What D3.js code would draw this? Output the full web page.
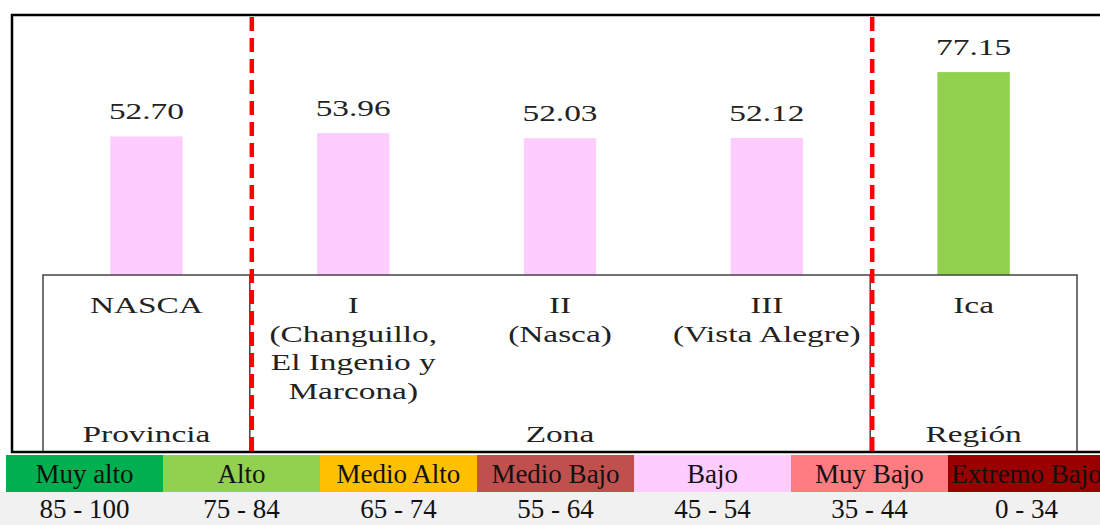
<!DOCTYPE html>
<html>
<head>
<meta charset="utf-8">
<script src="https://cdn.jsdelivr.net/npm/d3@7"></script>
<style>
  body { margin: 0; background: #fff; }
  svg text { font-family: "Liberation Serif", "Times New Roman", serif; }
</style>
</head>
<body>
<div id="chart"></div>
<script>
// data
const categories = ["NASCA", "I", "II", "III", "Ica"];
const values = [52.70, 53.96, 52.03, 52.12, 77.15];
const categoryLines = [
    ["NASCA"],
    ["I", "(Changuillo,", "El Ingenio y", "Marcona)"],
    ["II", "(Nasca)"],
    ["III", "(Vista Alegre)"],
    ["Ica"]
];
const groupNames = ["Provincia", "Zona", "Región"];
const groupSpans = [1, 3, 1];

const levelNames = ["Muy alto", "Alto", "Medio Alto", "Medio Bajo", "Bajo", "Muy Bajo", "Extremo Bajo"];
const levelRanges = ["85 - 100", "75 - 84", "65 - 74", "55 - 64", "45 - 54", "35 - 44", "0 - 34"];
const levelMins = [85, 75, 65, 55, 45, 35, 0];
const levelColors = ["#00b050", "#92d050", "#ffc000", "#c0504d", "#ffccff", "#ff7c80", "#990000"];

const width = 1100, height = 525;
const stretch = 1.39;   // chart texts are drawn wide in the original

let svg = d3.select("#chart").append("svg")
    .attr("width", width)
    .attr("height", height);

let x = d3.scaleBand()
    .domain(categories)
    .range([43, 1077])
    .paddingInner(0.65)
    .paddingOuter(0.325);

let y = d3.scaleLinear()
    .domain([0, 100])
    .range([275, 12]);

// colour of a bar = colour of its level
function levelColor(v) {
    let i = levelMins.findIndex(m => v >= m);
    return levelColors[i];
}

// background strip behind the range labels
svg.append("rect")
    .attr("x", 0).attr("y", 492)
    .attr("width", width).attr("height", height - 492)
    .attr("fill", "#f1f1f1");

// bars
svg.selectAll(".bar")
    .data(values)
    .enter().append("rect")
    .attr("class", "bar")
    .attr("x", (d, i) => x(categories[i]))
    .attr("y", d => y(d))
    .attr("width", x.bandwidth())
    .attr("height", d => y(0) - y(d))
    .attr("fill", d => levelColor(d));

function wideText(sel, tx, ty, str, size) {
    sel.append("text")
        .attr("transform", "translate(" + tx + "," + ty + ") scale(" + stretch + ",1)")
        .attr("text-anchor", "middle")
        .attr("font-size", size)
        .attr("fill", "#222")
        .text(str);
}

// value labels
values.forEach((v, i) => {
    wideText(svg, x(categories[i]) + x.bandwidth() / 2, y(v) - 17, v.toFixed(2), 24);
});

// table under the bars
let step = x.step();
let edge = i => x(categories[i]) + x.bandwidth() / 2 - step / 2;
let tableTop = y(0), tableBottom = 452;
let table = svg.append("g");

table.append("rect")
    .attr("x", x.range()[0])
    .attr("y", tableTop)
    .attr("width", x.range()[1] - x.range()[0])
    .attr("height", tableBottom - tableTop)
    .attr("fill", "#fff")
    .attr("stroke", "#444")
    .attr("stroke-width", 1.5);

let start = 0;
let groupEdges = [];
groupSpans.forEach((span, g) => {
    let left = start === 0 ? x.range()[0] : edge(start);
    let right = start + span >= categories.length ? x.range()[1] : edge(start + span);
    groupEdges.push(start + span);
    wideText(table, (left + right) / 2, 442, groupNames[g], 24);
    start += span;
});
groupEdges.pop();

groupEdges.forEach(i => {
    table.append("line")
        .attr("x1", edge(i)).attr("x2", edge(i))
        .attr("y1", tableTop).attr("y2", tableBottom)
        .attr("stroke", "#444")
        .attr("stroke-width", 1.5);
});

categoryLines.forEach((lines, i) => {
    lines.forEach((l, k) => {
        wideText(table, x(categories[i]) + x.bandwidth() / 2, 313 + k * 28.5, l, 24);
    });
});

// outer frame (left, top and bottom)
svg.append("path")
    .attr("d", "M1100,15 H12 V452 H1100")
    .attr("fill", "none")
    .attr("stroke", "#000")
    .attr("stroke-width", 2.5);

// legend
let lx = d3.scaleBand()
    .domain(levelNames)
    .range([6, 6 + 157 * levelNames.length]);

let legend = svg.append("g");
legend.selectAll("rect")
    .data(levelNames)
    .enter().append("rect")
    .attr("x", d => lx(d))
    .attr("y", 455)
    .attr("width", lx.bandwidth())
    .attr("height", 37)
    .attr("fill", (d, i) => levelColors[i]);

legend.selectAll(".name")
    .data(levelNames)
    .enter().append("text")
    .attr("class", "name")
    .attr("x", d => lx(d) + lx.bandwidth() / 2)
    .attr("y", 483)
    .attr("text-anchor", "middle")
    .attr("font-size", 27)
    .attr("fill", "#111")
    .text(d => d);

legend.selectAll(".range")
    .data(levelRanges)
    .enter().append("text")
    .attr("class", "range")
    .attr("x", (d, i) => lx(levelNames[i]) + lx.bandwidth() / 2)
    .attr("y", 518)
    .attr("text-anchor", "middle")
    .attr("font-size", 27)
    .attr("fill", "#111")
    .text(d => d);

// red dashed separators
groupEdges.forEach(i => {
    svg.append("line")
        .attr("x1", edge(i) + 2).attr("x2", edge(i) + 2)
        .attr("y1", 17).attr("y2", 457)
        .attr("stroke", "#ff0000")
        .attr("stroke-width", 4.5)
        .attr("stroke-dasharray", "14,7");
});
</script>
</body>
</html>
